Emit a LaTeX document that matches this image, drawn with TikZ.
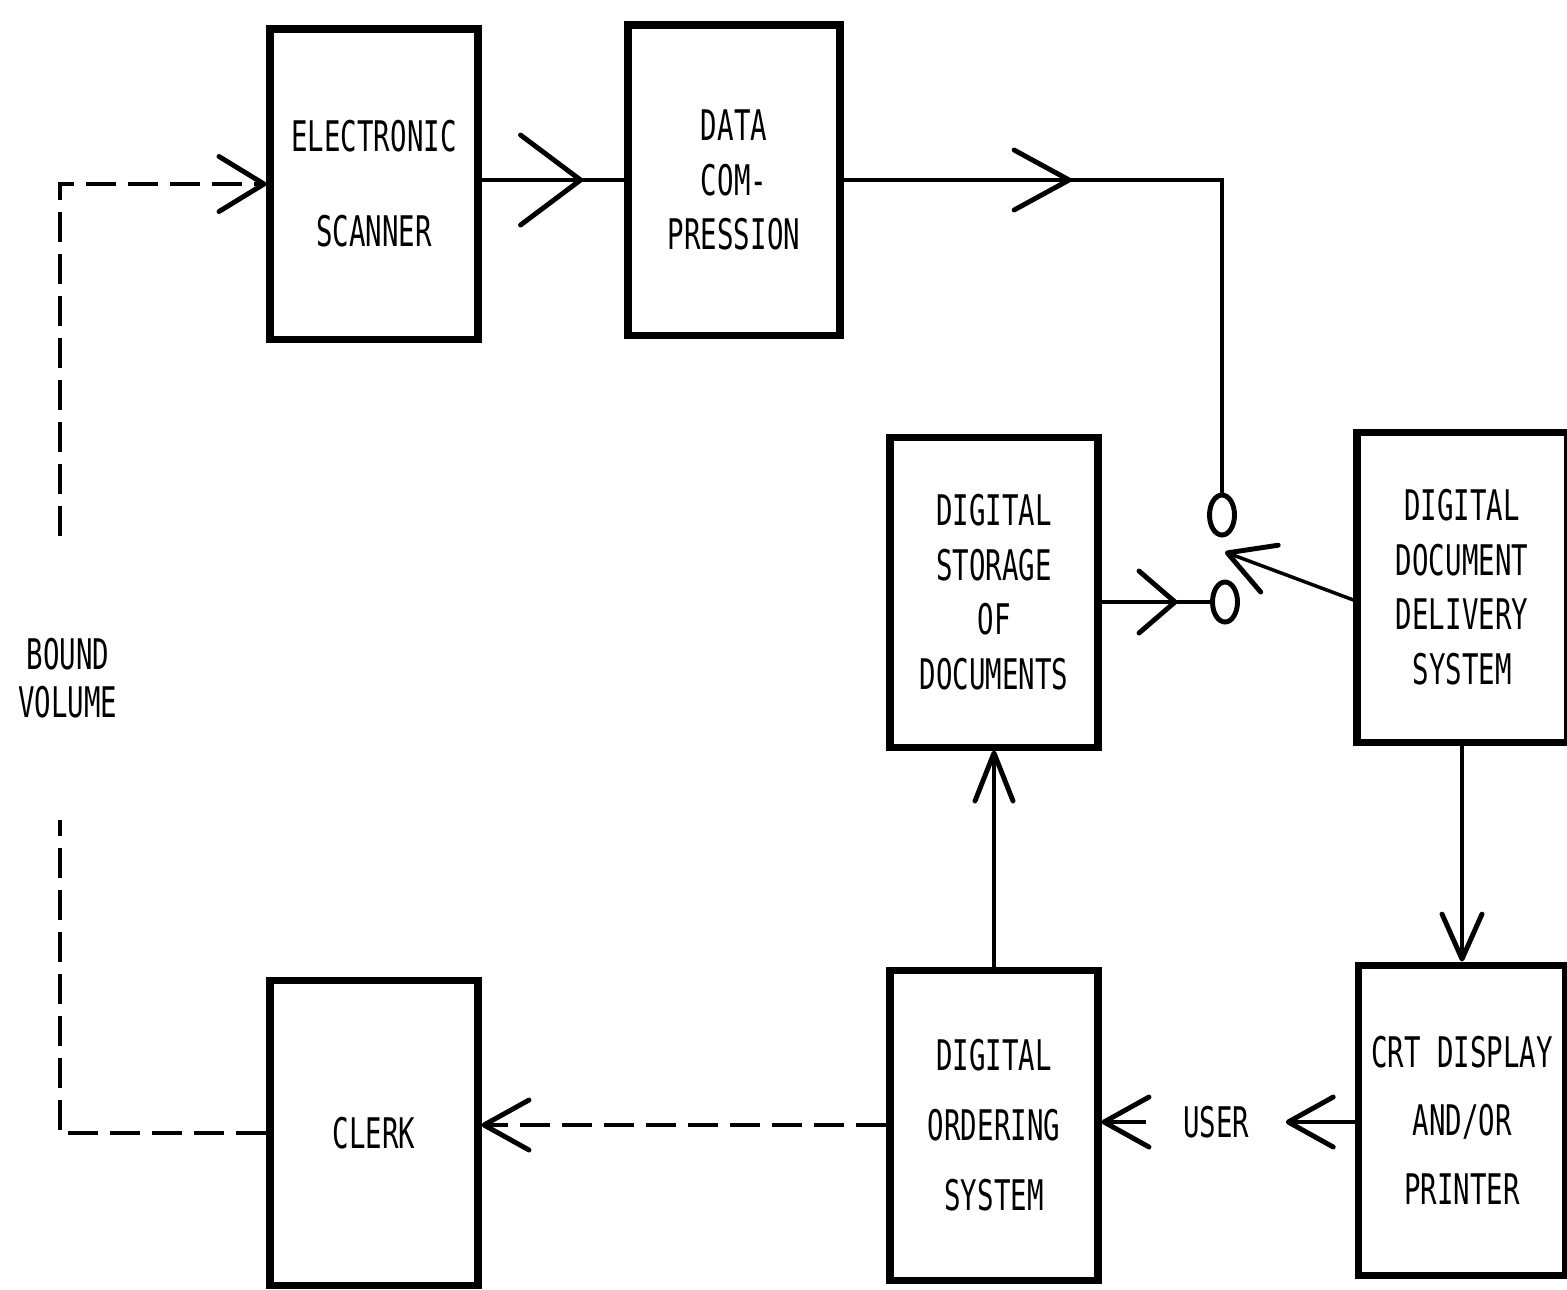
\documentclass[tikz,border=0pt]{standalone}
\usepackage{fontspec}
\setmainfont{DejaVu Sans Mono}[FakeStretch=0.65]
\usetikzlibrary{arrows.meta, decorations.markings, shapes.geometric}
\tikzset{>={Straight Barb[length=4.5mm,width=5mm,line width=1.4pt,round]}}

\begin{document}
\begin{tikzpicture}[line width=1pt, font=\fontsize{12}{15.5}\selectfont,
	block/.style={draw, line width=2pt, minimum width=2.08cm, minimum height=3.1cm, align=center},
	dashline/.style={dash pattern=on 3mm off 1.2mm, line width=1.2pt},
	midarrow/.style 2 args={postaction={decorate, decoration={markings, mark=at position #1 with {\arrow{Straight Barb[length=#2,width=9mm,line width=1.4pt,round]}}}}},
	terminal/.style={draw, ellipse, line width=1.4pt, minimum width=0.25cm, minimum height=0.4cm, inner sep=0pt}]

			\useasboundingbox (0,0) rectangle (15.67,-12.89);

			\node[block] (scan) at (3.74,-1.84) {ELECTRONIC\\[11.5pt]SCANNER};
			\node[block, minimum width=2.12cm] (comp) at (7.34,-1.80) {DATA\\COM-\\PRESSION};
			\node[block] (stor) at (9.94,-5.92) {DIGITAL\\STORAGE\\OF\\DOCUMENTS};
			\node[block, minimum width=2.1cm] (deliv) at (14.62,-5.87) {DIGITAL\\DOCUMENT\\DELIVERY\\SYSTEM};
			\node[block, minimum width=2.07cm] (crt) at (14.62,-11.20) {CRT DISPLAY\\[4pt]AND/OR\\[4pt]PRINTER};
			\node[block] (order) at (9.94,-11.25) {DIGITAL\\[4.5pt]ORDERING\\[4.5pt]SYSTEM};
			\node[block, minimum height=3.05cm] (clerk) at (3.74,-11.33) {CLERK};

			\node (bound) at (0.68,-6.78) [align=center, inner ysep=1cm, font=\fontsize{12}{13.7}\selectfont] {BOUND\\VOLUME};
			\node (user) at (12.16,-11.22) [inner xsep=0.35cm] {USER};

			\node[terminal] (swA) at (12.22,-5.15) {};
			\node[terminal] (swB) at (12.25,-6.02) {};
			\coordinate (armtip) at (12.25,-5.52);
			\coordinate (lt) at (0.60,-1.87);

			\draw [midarrow={0.71}{6mm}] (scan.east |- comp) -- (comp.west);
			\draw [postaction={decorate, decoration={markings, mark=at position 0.33 with {\arrow{Straight Barb[length=5.5mm,width=6mm,line width=1.4pt,round]}}}}] (comp.east) -| (swA.north);
			\draw [postaction={decorate, decoration={markings, mark=at position 0.70 with {\arrow{Straight Barb[length=3.6mm,width=6.2mm,line width=1.4pt,round]}}}}] (stor.east |- swB) -- (swB.west);
			\draw [->] ([yshift=-1.3mm]deliv.west) -- (armtip);
			\draw [-{Straight Barb[length=4.5mm,width=4mm,line width=1.4pt,round]}] (deliv.south) -- (crt.north);
			\draw [->] (crt.west |- user) -- (user.east);
			\draw [->] (user.west) -- (user.west -| order.east);
			\draw [-{Straight Barb[length=4.8mm,width=3.8mm,line width=1.4pt,round]}] (order.north) -- (stor.south);
			\draw [dashline, ->] (order.west) -- (order.west -| clerk.east);
			\draw [dashline] (clerk.west) -| (lt |- bound.south);
			\draw [dashline, -{Straight Barb[length=4.5mm,width=5.5mm,line width=1.4pt,round]}] (lt |- bound.north) |- (scan.west);

\end{tikzpicture}
\end{document}
